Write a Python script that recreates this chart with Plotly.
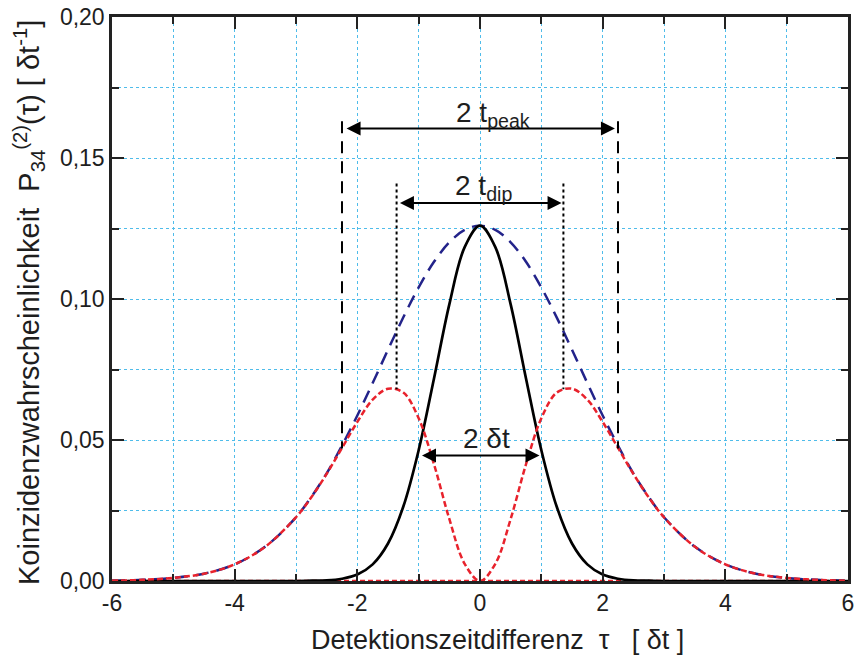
import plotly.graph_objects as go

tau = [-6, -5.5, -5, -4.5, -4, -3.5, -3, -2.75, -2.5, -2.25, -2, -1.75, -1.5, -1.25, -1, -0.75, -0.5, -0.25, 0,
       0.25, 0.5, 0.75, 1, 1.25, 1.5, 1.75, 2, 2.25, 2.5, 2.75, 3, 3.5, 4, 4.5, 5, 5.5, 6]
p_blue = [0.0001, 0.0004, 0.0011, 0.0026, 0.0059, 0.0122, 0.0226, 0.0298, 0.0382, 0.0480, 0.0587, 0.0702, 0.0820,
          0.0935, 0.1041, 0.1132, 0.1201, 0.1245, 0.1260,
          0.1245, 0.1201, 0.1132, 0.1041, 0.0935, 0.0820, 0.0702, 0.0587, 0.0480, 0.0382, 0.0298, 0.0226, 0.0122,
          0.0059, 0.0026, 0.0011, 0.0004, 0.0001]
p_black = [0, 0, 0, 0, 0, 0, 0, 0.0001, 0.0002, 0.0008, 0.0023, 0.0059, 0.0133, 0.0264, 0.0464, 0.0718, 0.0981,
           0.1184, 0.1260,
           0.1184, 0.0981, 0.0718, 0.0464, 0.0264, 0.0133, 0.0059, 0.0023, 0.0008, 0.0002, 0.0001, 0, 0, 0, 0, 0, 0, 0]
p_red = [0.0001, 0.0004, 0.0011, 0.0026, 0.0059, 0.0122, 0.0226, 0.0297, 0.0380, 0.0472, 0.0564, 0.0643, 0.0682,
         0.0668, 0.0577, 0.0414, 0.0220, 0.0061, 0.0000,
         0.0061, 0.0220, 0.0414, 0.0577, 0.0668, 0.0682, 0.0643, 0.0564, 0.0472, 0.0380, 0.0297, 0.0226, 0.0122,
         0.0059, 0.0026, 0.0011, 0.0004, 0.0001]
base_x = [-6, 6]
base_y = [0, 0]

# annotation values
t_peak = 2.25
t_peak_top = 0.163
t_peak_bottom = 0.047
t_peak_arrow_y = 0.1605
t_dip = 1.36
t_dip_top = 0.141
t_dip_bottom = 0.068
t_dip_arrow_y = 0.134
dt_half = 0.97
dt_arrow_y = 0.0445

y_ticks = [0.0, 0.05, 0.10, 0.15, 0.20]
y_ticktext = ["0,00", "0,05", "0,10", "0,15", "0,20"]
x_ticks = [-6, -4, -2, 0, 2, 4, 6]
x_ticktext = ["-6", "-4", "-2", "0", "2", "4", "6"]

FONT = "Liberation Sans, Arial, sans-serif"
TXT = "#1e1e1e"

fig = go.Figure()
fig.add_trace(go.Scatter(x=base_x, y=base_y, mode="lines",
                         line=dict(color="#e8222c", width=2.5, dash="5px,3px")))
fig.add_trace(go.Scatter(x=tau, y=p_blue, mode="lines", line_shape="spline",
                         line=dict(color="#23238a", width=2.5, dash="13px,8px")))
fig.add_trace(go.Scatter(x=tau, y=p_black, mode="lines", line_shape="spline",
                         line=dict(color="black", width=2.7)))
fig.add_trace(go.Scatter(x=tau, y=p_red, mode="lines", line_shape="spline",
                         line=dict(color="#e8222c", width=2.5, dash="6px,3px")))

# vertical marker lines
for s in (-1, 1):
    fig.add_trace(go.Scatter(x=[s * t_peak, s * t_peak], y=[t_peak_top, t_peak_bottom], mode="lines",
                             line=dict(color="black", width=2, dash="12px,8px")))
    fig.add_trace(go.Scatter(x=[s * t_dip, s * t_dip], y=[t_dip_top, t_dip_bottom], mode="lines",
                             line=dict(color="black", width=2, dash="3px,3px")))

arrow_common = dict(showarrow=True, text="", axref="x", ayref="y", xref="x", yref="y",
                    arrowhead=2, startarrowhead=2, arrowside="end+start", arrowsize=1.4,
                    startarrowsize=1.4, arrowwidth=2, arrowcolor="black", standoff=0, startstandoff=0)
annotations = [
    dict(x=t_peak - 0.05, y=t_peak_arrow_y, ax=-t_peak + 0.05, ay=t_peak_arrow_y, **arrow_common),
    dict(x=t_dip - 0.03, y=t_dip_arrow_y, ax=-t_dip + 0.03, ay=t_dip_arrow_y, **arrow_common),
    dict(x=dt_half, y=dt_arrow_y, ax=-dt_half, ay=dt_arrow_y, **arrow_common),
    dict(x=0.22, y=0.1655, text="2 t<sub>peak</sub>", showarrow=False, xref="x", yref="y",
         font=dict(family=FONT, size=28, color=TXT)),
    dict(x=0.05, y=0.1395, text="2 t<sub>dip</sub>", showarrow=False, xref="x", yref="y",
         font=dict(family=FONT, size=28, color=TXT)),
    dict(x=0.1, y=0.0505, text="2 δt", showarrow=False, xref="x", yref="y",
         font=dict(family=FONT, size=28, color=TXT)),
    # axis titles
    dict(x=0.5, y=0, xref="paper", yref="paper", xshift=17, yshift=-59, yanchor="middle",
         text="Detektionszeitdifferenz&nbsp;&nbsp;τ&nbsp;&nbsp;&nbsp;[ δt ]", showarrow=False,
         font=dict(family=FONT, size=27, color=TXT)),
    dict(x=0, y=0.5, xref="paper", yref="paper", xshift=-83, yshift=-4, xanchor="center", yanchor="middle",
         textangle=-90,
         text="Koinzidenzwahrscheinlichkeit&nbsp;&nbsp;P<sub>34</sub><sup>(2)</sup>(τ) [ δt<sup>-1</sup>]",
         showarrow=False, font=dict(family=FONT, size=29, color=TXT)),
]

grid_col = "#4fbcea"
fig.update_layout(
    width=856, height=664,
    margin=dict(l=112, r=8, t=17, b=83, autoexpand=False),
    paper_bgcolor="white", plot_bgcolor="white",
    showlegend=False,
    font=dict(family=FONT, size=23, color=TXT),
    annotations=annotations,
)
fig.update_xaxes(
    range=[-6, 6], tickvals=x_ticks, ticktext=x_ticktext, automargin=False,
    ticks="inside", ticklen=12, tickwidth=2, tickcolor="#222",
    showline=True, linecolor="#222", linewidth=2.5, mirror="ticks",
    showgrid=True, gridcolor=grid_col, griddash="dot", gridwidth=1,
    minor=dict(dtick=1, ticks="inside", ticklen=7, tickwidth=2, tickcolor="#222",
               showgrid=True, gridcolor=grid_col, griddash="dot", gridwidth=1),
    zeroline=False,
    tickfont=dict(size=23),
)
fig.update_yaxes(
    range=[0, 0.2], tickvals=y_ticks, ticktext=y_ticktext, automargin=False,
    ticks="inside", ticklen=12, tickwidth=2, tickcolor="#222",
    showline=True, linecolor="#222", linewidth=2.5, mirror="ticks",
    showgrid=True, gridcolor=grid_col, griddash="dot", gridwidth=1,
    minor=dict(dtick=0.025, tick0=0, ticks="inside", ticklen=7, tickwidth=2, tickcolor="#222",
               showgrid=True, gridcolor=grid_col, griddash="dot", gridwidth=1),
    zeroline=False,
    tickfont=dict(size=23),
)

fig.write_html("out.html")
